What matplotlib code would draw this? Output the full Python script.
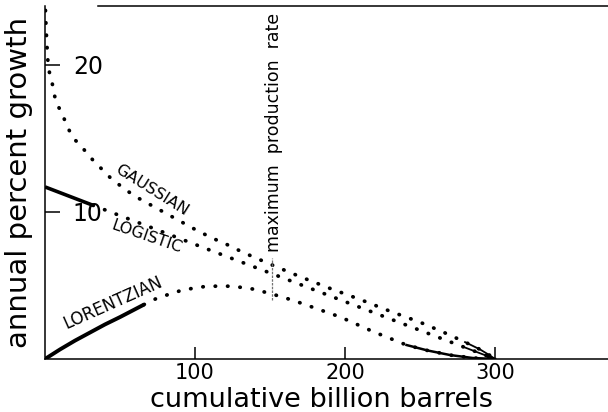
#import libraries
import matplotlib
matplotlib.use('Agg')
from matplotlib import pyplot as plt

#data (cumulative billion barrels, annual percent growth)
gauss_q = [0.3, 0.7, 1.2, 1.7, 2.2, 3.3, 4.7, 6.7, 8.7, 11.3, 13.3, 15.3, 18, 20,
           24.7, 28.7, 33, 38, 43.3, 50, 56, 62, 70, 78, 86, 94, 102, 112, 122,
           132, 150, 170, 190, 210, 230, 250, 265, 280, 290, 296, 300]
gauss_v = [23.7, 22.6, 21.5, 20.6, 19.9, 19.3, 18.8, 17.75, 17.2, 16.7, 16.2, 15.7,
           15.2, 14.9, 14.4, 13.9, 13.4, 12.9, 12.35, 11.8, 11.35, 10.95, 10.5,
           10.05, 9.6, 9.15, 8.7, 8.2, 7.75, 7.25, 6.45, 5.6, 4.8, 4.05, 3.25,
           2.5, 1.85, 1.15, 0.65, 0.28, 0.0]

logit_q = [0, 32, 70, 110, 150, 200, 250, 280, 300]
logit_v = [11.7, 10.45, 8.97, 7.4, 5.85, 3.9, 1.95, 0.78, 0.0]

lor_q = [0, 10, 20, 30, 40, 50, 66, 75, 92, 108, 125, 139, 152, 165, 179, 197,
         219, 241, 255, 270, 285, 300]
lor_v = [0, 0.65, 1.25, 1.8, 2.35, 2.85, 3.7, 4.15, 4.7, 4.95, 4.95, 4.75, 4.4,
         4.0, 3.5, 2.85, 1.85, 0.95, 0.58, 0.27, 0.07, 0.0]

x_ticks = [100, 200, 300]
y_ticks = [10, 20]
peak_q = 151

#figure and axes
fig = plt.figure(figsize=(6.08, 4.12), dpi=100)
ax = fig.add_axes([45/608, 53/412, 563/608, 353/412])
ax.set_xlim(0, 375.3)
ax.set_ylim(0, 24.0)

dots = dict(color='black', lw=2.7, linestyle=(0, (0.1, 3.2)), dash_capstyle='round')
tail = dict(color='black', lw=1.3)

#gaussian, all dotted with a dense tail
ax.plot(gauss_q, gauss_v, **dots)
ax.plot(gauss_q[-4:], gauss_v[-4:], **tail)
#logistic, solid at first then dotted
ax.plot(logit_q[:2], logit_v[:2], color='black', lw=2.6, solid_capstyle='butt')
ax.plot(logit_q[1:], logit_v[1:], **dots)
ax.plot(logit_q[-2:], logit_v[-2:], **tail)
#lorentzian
ax.plot(lor_q[:7], lor_v[:7], color='black', lw=2.8, solid_capstyle='butt')
ax.plot(lor_q[6:], lor_v[6:], **dots)
ax.plot(lor_q[-5:], lor_v[-5:], color='black', lw=1.8)

#maximum production rate marker
ax.plot([peak_q, peak_q], [4.0, 6.9], color='0.45', lw=0.9, linestyle=(0, (2, 1)))
ax.text(peak_q + 1.5, 7.3, 'maximum  production  rate', rotation=90,
        ha='center', va='bottom', fontsize=12.5)

#curve names
ax.text(71, 11.5, 'GAUSSIAN', rotation=-32, ha='center', va='center', fontsize=11.5)
ax.text(68, 8.3, 'LOGISTIC', rotation=-19, ha='center', va='center', fontsize=11.5)
ax.text(45, 3.8, 'LORENTZIAN', rotation=24, ha='center', va='center', fontsize=12)

#axes styling
ax.spines['right'].set_visible(False)
ax.spines['top'].set_bounds(35, 375.3)
for s in ['left', 'bottom', 'top']:
    ax.spines[s].set_linewidth(1.1)

ax.set_xticks(x_ticks)
ax.set_xticklabels([str(v) for v in x_ticks])
ax.set_yticks(y_ticks)
ax.set_yticklabels([str(v) for v in y_ticks])
ax.tick_params(axis='x', direction='in', length=9, width=1.1, pad=3, labelsize=15)
ax.tick_params(axis='y', direction='in', length=11, width=1.1, pad=-20, labelsize=17)
for lab in ax.get_yticklabels():
    lab.set_horizontalalignment('left')

ax.set_xlabel('cumulative billion barrels', fontsize=19.5)
ax.xaxis.set_label_coords(0.492, -0.08)
ax.set_ylabel('annual percent growth', fontsize=21)
ax.yaxis.label.set_verticalalignment('center')
ax.yaxis.set_label_coords(-0.046, 0.5)

#Save the results
plt.savefig('out.png', dpi=100)
